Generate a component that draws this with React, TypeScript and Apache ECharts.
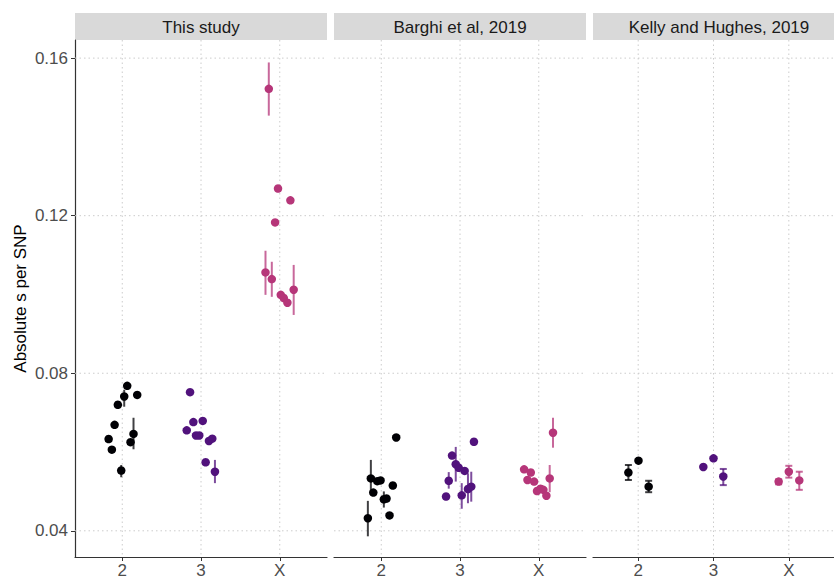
import React, { useEffect, useRef } from "react";
import * as echarts from "echarts";

// ---------- data ----------
const CATEGORIES = ["2", "3", "X"];
const CAT_POS = [1, 2, 3];
const Y_TICKS = [0.04, 0.08, 0.12, 0.16];
const Y_MIN = 0.03335;
const Y_MAX = 0.1646;
const PANELS = ["This study", "Barghi et al, 2019", "Kelly and Hughes, 2019"];
const COLORS = ["#000004", "#51127C", "#B63679"];

// each point: [jitter offset from category, value, lower, upper]
const thisStudy2 = [
  [0.063, 0.0768], [0.025, 0.0741, 0.0715, 0.0758], [0.19, 0.0745], [-0.056, 0.072],
  [-0.097, 0.0669], [-0.173, 0.0633], [-0.132, 0.0606], [0.143, 0.0646, 0.0607, 0.0687],
  [0.105, 0.0625], [-0.013, 0.0553, 0.0536, 0.0567],
];
const thisStudy3 = [
  [-0.139, 0.0752], [-0.097, 0.0676], [0.022, 0.0679], [-0.181, 0.0655], [-0.063, 0.0642],
  [-0.022, 0.0642], [0.101, 0.0628], [0.143, 0.0634], [0.059, 0.0574], [0.177, 0.055, 0.0521, 0.058],
];
const thisStudyX = [
  [-0.139, 0.1522, 0.1454, 0.1589], [-0.022, 0.1269], [0.135, 0.1239], [-0.059, 0.1183],
  [-0.181, 0.1056, 0.0999, 0.1111], [-0.101, 0.1039, 0.0994, 0.1083], [0.013, 0.0999],
  [0.051, 0.0991], [0.097, 0.0979], [0.177, 0.1012, 0.0948, 0.1075],
];
const barghi2 = [
  [0.19, 0.0637], [-0.132, 0.0533, 0.0491, 0.058], [-0.051, 0.0526], [-0.009, 0.0528],
  [0.147, 0.0515], [-0.101, 0.0497], [0.033, 0.048, 0.0459, 0.05], [0.067, 0.0482],
  [-0.17, 0.0432, 0.0386, 0.0476], [0.105, 0.0439],
];
const barghi3 = [
  [0.177, 0.0626], [-0.101, 0.0591], [-0.054, 0.0569, 0.0525, 0.0613], [-0.016, 0.056],
  [0.059, 0.0552], [-0.143, 0.0527, 0.0507, 0.0549], [-0.177, 0.0487], [0.022, 0.049, 0.0456, 0.0521],
  [0.101, 0.0506, 0.047, 0.0546], [0.143, 0.0512, 0.0474, 0.055],
];
const barghiX = [
  [0.181, 0.0649, 0.0611, 0.0687], [-0.186, 0.0556], [-0.101, 0.0548], [-0.143, 0.0529],
  [-0.059, 0.0525], [0.139, 0.0533, 0.0498, 0.0567], [-0.022, 0.0501], [0.022, 0.0507],
  [0.059, 0.0504], [0.097, 0.0489],
];
const kelly2 = [[-0.13, 0.0548, 0.0529, 0.0567], [0.004, 0.0578], [0.139, 0.0512, 0.0498, 0.0527]];
const kelly3 = [[-0.135, 0.0562], [0, 0.0584], [0.13, 0.0538, 0.0516, 0.0557]];
const kellyX = [[-0.135, 0.0525, 0.0518, 0.0531], [0, 0.055, 0.0535, 0.0565], [0.139, 0.0528, 0.0504, 0.055]];

const PANEL_DATA = [
  [thisStudy2, thisStudy3, thisStudyX],
  [barghi2, barghi3, barghiX],
  [kelly2, kelly3, kellyX],
];

// ---------- layout ----------
const FONT = "Liberation Sans";
const PANEL_LEFT = [75, 334, 593];
const PANEL_W = 252;
const PANEL_TOP = 40;
const PANEL_H = 519;

function buildOption() {
  const grids = PANEL_LEFT.map((l) => ({ left: l, top: PANEL_TOP, width: PANEL_W, height: PANEL_H }));
  const xAxes = PANEL_LEFT.map((_, i) => ({
    type: "value",
    gridIndex: i,
    min: 0.4,
    max: 3.6,
    axisLine: { show: true, onZero: false, lineStyle: { color: "#333333", width: 1.2 } },
    axisTick: { show: true, customValues: CAT_POS, length: 4, lineStyle: { color: "#333333", width: 1 } },
    axisLabel: {
      customValues: CAT_POS,
      formatter: (v: number) => CATEGORIES[Math.round(v) - 1],
      color: "#4d4d4d",
      fontSize: 17,
      fontFamily: FONT,
      margin: 5,
    },
    splitLine: { show: false },
  }));
  const yAxes = PANEL_LEFT.map((_, i) => ({
    type: "value",
    gridIndex: i,
    min: Y_MIN,
    max: Y_MAX,
    name: i === 0 ? "Absolute s per SNP" : "",
    nameLocation: "middle",
    nameGap: 46,
    nameTextStyle: { color: "#000000", fontSize: 17, fontFamily: FONT },
    axisLine: { show: i === 0, onZero: false, lineStyle: { color: "#333333", width: 1.2 } },
    axisTick: { show: i === 0, customValues: Y_TICKS, length: 4, lineStyle: { color: "#333333", width: 1 } },
    axisLabel: {
      show: i === 0,
      customValues: Y_TICKS,
      formatter: (v: number) => v.toFixed(2),
      color: "#4d4d4d",
      fontSize: 17,
      fontFamily: FONT,
      margin: 7,
    },
    splitLine: { show: false },
  }));

  const gridStyle = { stroke: "#cccccc", lineWidth: 1, lineDash: [1.5, 3] };
  const series: any[] = [];
  PANEL_DATA.forEach((groups, p) => {
    series.push({
      type: "custom",
      xAxisIndex: p,
      yAxisIndex: p,
      silent: true,
      z: 1,
      data: CAT_POS.map((v) => [v, Y_TICKS[0]]),
      renderItem: (params: any, api: any) => {
        const cs = params.coordSys;
        const x = api.coord([api.value(0), api.value(1)])[0];
        return { type: "line", shape: { x1: x, y1: cs.y, x2: x, y2: cs.y + cs.height }, style: gridStyle };
      },
    });
    series.push({
      type: "custom",
      xAxisIndex: p,
      yAxisIndex: p,
      silent: true,
      z: 1,
      data: Y_TICKS.map((v) => [CAT_POS[0], v]),
      renderItem: (params: any, api: any) => {
        const cs = params.coordSys;
        const y = api.coord([api.value(0), api.value(1)])[1];
        return { type: "line", shape: { x1: cs.x, y1: y, x2: cs.x + cs.width, y2: y }, style: gridStyle };
      },
    });
    groups.forEach((group, c) => {
      const color = COLORS[c];
      const caps = p === 2;
      series.push({
        type: "custom",
        xAxisIndex: p,
        yAxisIndex: p,
        silent: true,
        z: 2,
        encode: { x: 0, y: [1, 2] },
        data: group.filter((d) => d.length > 2).map((d) => [CAT_POS[c] + d[0], d[2], d[3]]),
        renderItem: (_params: any, api: any) => {
          const x = api.value(0);
          const lo = api.coord([x, api.value(1)]);
          const hi = api.coord([x, api.value(2)]);
          const st = { stroke: color, lineWidth: 2, opacity: 0.75 };
          const children: any[] = [
            { type: "line", shape: { x1: lo[0], y1: lo[1], x2: hi[0], y2: hi[1] }, style: st },
          ];
          if (caps) {
            children.push({ type: "line", shape: { x1: lo[0] - 3.5, y1: lo[1], x2: lo[0] + 3.5, y2: lo[1] }, style: st });
            children.push({ type: "line", shape: { x1: hi[0] - 3.5, y1: hi[1], x2: hi[0] + 3.5, y2: hi[1] }, style: st });
          }
          return { type: "group", children };
        },
      });
      series.push({
        type: "scatter",
        xAxisIndex: p,
        yAxisIndex: p,
        z: 3,
        symbol: "circle",
        symbolSize: 8.5,
        itemStyle: { color, opacity: 1 },
        data: group.map((d) => [CAT_POS[c] + d[0], d[1]]),
      });
    });
  });

  const graphic: any[] = [];
  PANELS.forEach((name, i) => {
    graphic.push({
      type: "rect",
      left: PANEL_LEFT[i],
      top: 13,
      shape: { width: PANEL_W, height: 27 },
      style: { fill: "#d9d9d9" },
      silent: true,
    });
    graphic.push({
      type: "text",
      x: PANEL_LEFT[i] + PANEL_W / 2,
      y: 27,
      style: {
        text: name,
        fill: "#1a1a1a",
        fontSize: 17,
        fontFamily: FONT,
        textAlign: "center",
        textVerticalAlign: "middle",
      },
      silent: true,
    });
  });

  return {
    animation: false,
    backgroundColor: "#ffffff",
    textStyle: { fontFamily: FONT },
    grid: grids,
    xAxis: xAxes,
    yAxis: yAxes,
    series,
    graphic,
  };
}

export default function App() {
  const ref = useRef<HTMLDivElement>(null);
  useEffect(() => {
    if (!ref.current) return;
    const chart = echarts.init(ref.current, null, { renderer: "svg" });
    chart.setOption(buildOption() as any);
    return () => chart.dispose();
  }, []);
  return (
    <div
      ref={ref}
      style={{ position: "absolute", left: 0, top: 0, width: 834, height: 579, background: "#fff" }}
    />
  );
}
